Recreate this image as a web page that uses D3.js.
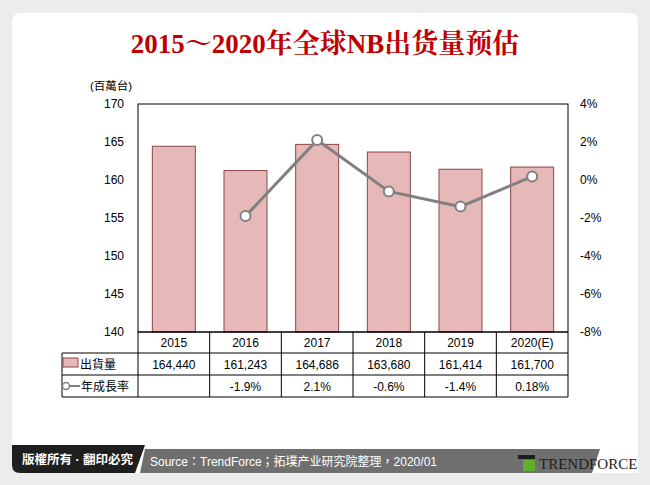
<!DOCTYPE html><html><head><meta charset="utf-8"><script src="https://d3js.org/d3.v7.min.js"></script>
<style>body{margin:0;background:#ececec}svg{display:block}</style></head><body><svg width="650" height="485"></svg>
<script>
const categories=["2015","2016","2017","2018","2019","2020(E)"];
const shipments=[164440,161243,164686,163680,161414,161700];
const growth=[null,-1.9,2.1,-0.6,-1.4,0.18];
const growthLabels=["","-1.9%","2.1%","-0.6%","-1.4%","0.18%"];
const leftTicks=[140,145,150,155,160,165,170];
const rightTicks=[-8,-6,-4,-2,0,2,4];
const svg=d3.select("svg");
const F="'Liberation Sans',Arial,'Noto Sans CJK TC',sans-serif";
svg.append("rect").attr("x",12).attr("y",13).attr("width",626).attr("height",460).attr("rx",8).attr("fill","#fff");
svg.append("text").attr("x",325).attr("y",53).attr("text-anchor","middle").attr("font-family","'Liberation Serif','Noto Serif CJK SC','Noto Sans CJK SC',serif").attr("font-weight","bold").attr("font-size",27).attr("fill","#c00000").text("2015～2020年全球NB出货量预估");
const L=138,R=568,T=104,B=332;
const x=d3.scaleBand().domain(categories).range([L,R]);
const y=d3.scaleLinear().domain([140,170]).range([B,T]);
const y2=d3.scaleLinear().domain([-8,4]).range([B,T]);
svg.append("text").attr("x",90).attr("y",90).attr("font-family",F).attr("font-size",11.5).text("(百萬台)");
svg.append("g").selectAll("rect").data(shipments).join("rect").attr("x",(d,i)=>x(categories[i])+x.bandwidth()/2-21.5).attr("width",43).attr("y",d=>y(d/1000)).attr("height",d=>B-y(d/1000)).attr("fill","#e6b9b8").attr("stroke","#8c4646").attr("stroke-width",1);
svg.append("rect").attr("x",L).attr("y",T).attr("width",R-L).attr("height",B-T).attr("fill","none").attr("stroke","#000");
const ga=svg.append("g").attr("transform",`translate(${L},0)`).call(d3.axisLeft(y).tickValues(leftTicks).tickSize(0).tickPadding(14));
ga.select(".domain").remove();ga.selectAll("text").attr("font-family",F).attr("font-size",12);
const gb=svg.append("g").attr("transform",`translate(${R},0)`).call(d3.axisRight(y2).tickValues(rightTicks).tickSize(0).tickPadding(12).tickFormat(d=>d+"%"));
gb.select(".domain").remove();gb.selectAll("text").attr("font-family",F).attr("font-size",12);
const pts=growth.map((g,i)=>({g,i})).filter(d=>d.g!==null);
const cx=d=>x(categories[d.i])+x.bandwidth()/2;
svg.append("path").datum(pts).attr("d",d3.line().x(cx).y(d=>y2(d.g))).attr("fill","none").attr("stroke","#808080").attr("stroke-width",3);
svg.append("g").selectAll("circle").data(pts).join("circle").attr("cx",cx).attr("cy",d=>y2(d.g)).attr("r",5).attr("fill","#fff").attr("stroke","#808080").attr("stroke-width",2);
const rows=[B,353,375,397];const TL=62;
const tg=svg.append("g").attr("stroke","#000").attr("stroke-width",1);
tg.append("line").attr("x1",L).attr("x2",R).attr("y1",B).attr("y2",B);
rows.slice(1).forEach(r=>tg.append("line").attr("x1",TL).attr("x2",R).attr("y1",r).attr("y2",r));
tg.append("line").attr("x1",TL).attr("x2",TL).attr("y1",rows[1]).attr("y2",rows[3]);
categories.forEach(c=>tg.append("line").attr("x1",x(c)).attr("x2",x(c)).attr("y1",B).attr("y2",rows[3]));
tg.append("line").attr("x1",R).attr("x2",R).attr("y1",B).attr("y2",rows[3]);
const tt=svg.append("g").attr("font-family",F).attr("font-size",12).attr("text-anchor","middle");
categories.forEach((c,i)=>{const m=x(c)+x.bandwidth()/2;
tt.append("text").attr("x",m).attr("y",347).text(c);
tt.append("text").attr("x",m).attr("y",369).text(d3.format(",")(shipments[i]));
tt.append("text").attr("x",m).attr("y",391).text(growthLabels[i]);});
svg.append("rect").attr("x",63).attr("y",358).attr("width",15).attr("height",9).attr("fill","#e6b9b8").attr("stroke","#8c4646");
svg.append("text").attr("x",80).attr("y",369).attr("font-family",F).attr("font-size",12).text("出貨量");
svg.append("line").attr("x1",63).attr("x2",80).attr("y1",386).attr("y2",386).attr("stroke","#808080").attr("stroke-width",2);
svg.append("circle").attr("cx",66).attr("cy",386).attr("r",3.5).attr("fill","#fff").attr("stroke","#808080").attr("stroke-width",1.5);
svg.append("text").attr("x",81).attr("y",391).attr("font-family",F).attr("font-size",12).text("年成長率");
svg.append("path").attr("d","M145,449 L600,449 L592,473 L140,473 Z").attr("fill","#6f6f6f");
svg.append("path").attr("d","M12,445 L145,445 L135,473 L20,473 Q12,473 12,465 Z").attr("fill","#1e1e1e");
svg.append("text").attr("x",22).attr("y",464).attr("font-family",F).attr("font-size",12.5).attr("font-weight","bold").attr("fill","#fff").text("版權所有 · 翻印必究");
svg.append("text").attr("x",150).attr("y",466).attr("font-family",F).attr("font-size",12).attr("fill","#fff").text("Source：TrendForce；拓墣产业研究院整理，2020/01");
svg.append("path").attr("d","M606,437 L638,437 L638,473 L594,473 Z").attr("fill","#fff");
svg.append("rect").attr("x",518).attr("y",455).attr("width",17).attr("height",4).attr("fill","#1e1e1e");
svg.append("rect").attr("x",523).attr("y",460).attr("width",12).attr("height",11).attr("fill","#5fb02b");
svg.append("text").attr("x",539).attr("y",469).attr("font-family","'Liberation Serif',serif").attr("font-size",15).attr("fill","#1e1e1e").text("TRENDFORCE");
</script></body></html>
